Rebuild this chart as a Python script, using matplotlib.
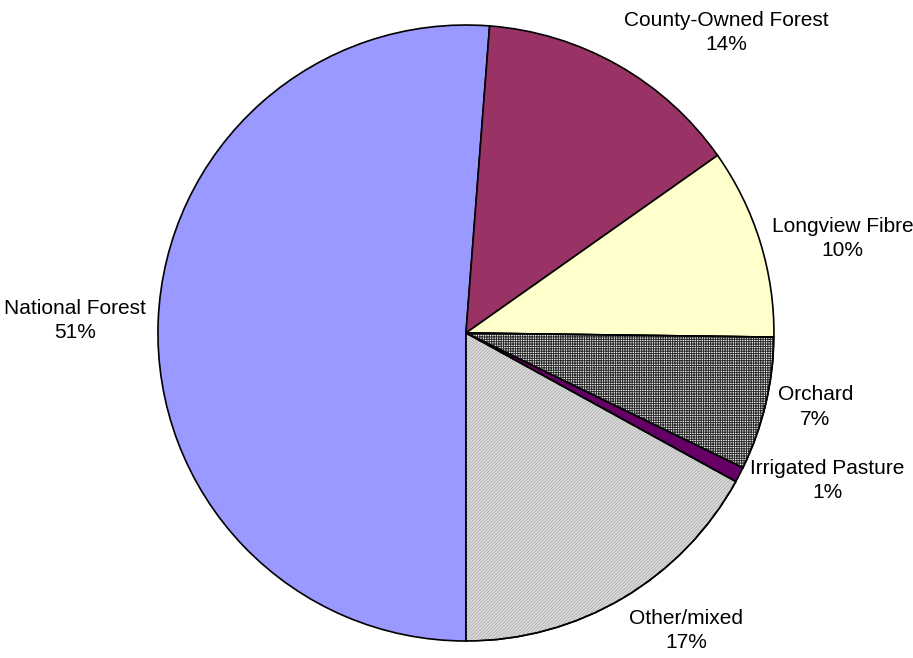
import matplotlib
matplotlib.use("Agg")
import matplotlib.pyplot as plt
import numpy as np
from matplotlib.patches import Wedge

categories = ["National Forest", "County-Owned Forest", "Longview Fibre",
              "Orchard", "Irrigated Pasture", "Other/mixed"]
values = [51.25, 14.0, 10.0, 7.0, 0.8, 17.0]
pct_labels = ["51%", "14%", "10%", "7%", "1%", "17%"]
colors = ["#9999FF", "#993366", "#FFFFCC", "#F4F4F4", "#660066", "#DEDEDE"]
hatches = [None, None, None, "+++++++", None, "//////////"]
hatch_colors = [None, None, None, "#2A2A2A", None, "#B4B4B4"]

plt.rcParams['font.family'] = ['Liberation Sans', 'DejaVu Sans']
plt.rcParams['hatch.linewidth'] = 0.7

fig = plt.figure(figsize=(9.13, 6.58), dpi=100)
ax = fig.add_axes([0.1730, 0.0258, 0.6747, 0.9362])

wedges, _ = ax.pie(values, colors=colors, startangle=-90, counterclock=False,
                   radius=1, wedgeprops=dict(edgecolor='black', linewidth=1.2))
ax.set_xlim(-1, 1)
ax.set_ylim(-1, 1)
ax.set_aspect('equal')
ax.axis('off')

for w, h, hc in zip(wedges, hatches, hatch_colors):
    if h:
        hw = Wedge(w.center, w.r, w.theta1, w.theta2, facecolor='none',
                   edgecolor=hc, hatch=h, linewidth=0, zorder=w.get_zorder() + 0.1)
        ax.add_patch(hw)
        ow = Wedge(w.center, w.r, w.theta1, w.theta2, facecolor='none',
                   edgecolor='black', linewidth=1.2, zorder=w.get_zorder() + 0.2)
        ax.add_patch(ow)

for w, name, p in zip(wedges, categories, pct_labels):
    ang = np.deg2rad((w.theta1 + w.theta2) / 2)
    c, s = np.cos(ang), np.sin(ang)
    x, y = 1.04 * c, 1.04 * s
    ha = 'left' if c > 0.1 else ('right' if c < -0.1 else 'center')
    va = 'bottom' if s > 0.5 else ('top' if s < -0.5 else 'center')
    ax.text(x, y, f"{name}\n{p}", ha=ha, va=va, multialignment='center',
            fontsize=15, linespacing=1.35, clip_on=False)

fig.savefig("out.png", dpi=100)
